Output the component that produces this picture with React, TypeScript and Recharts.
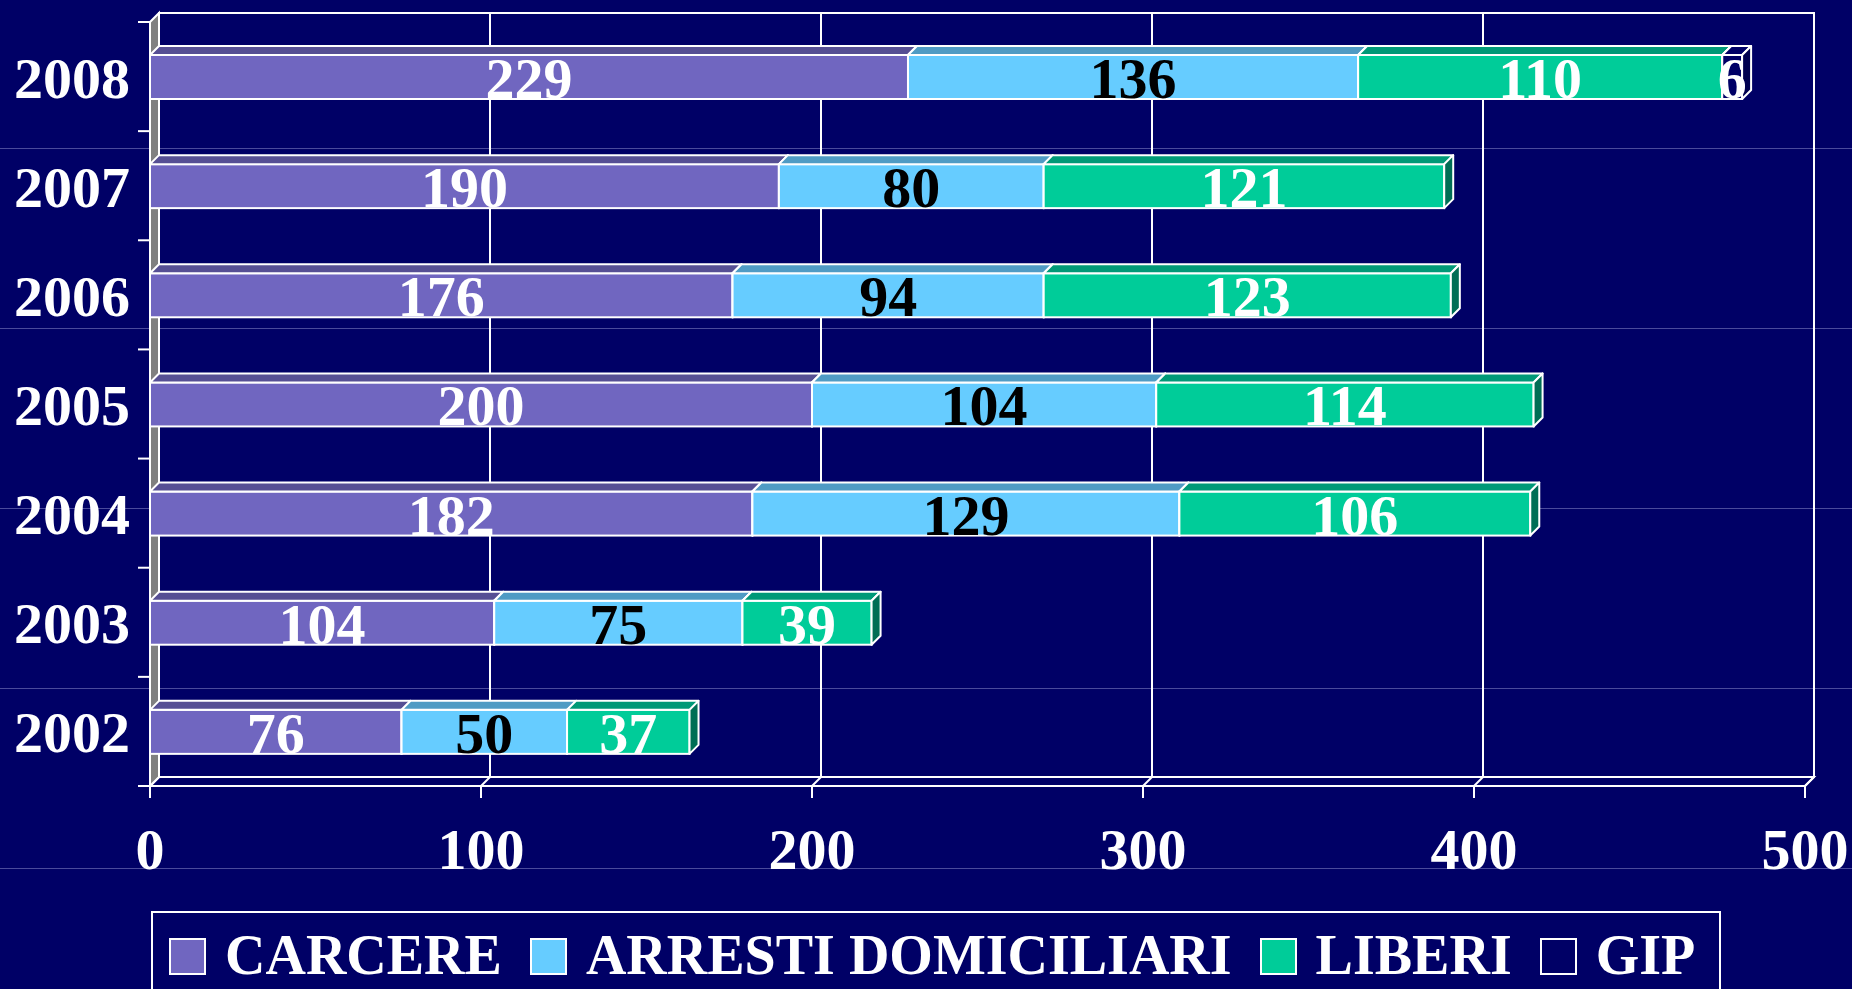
import React from "react";
import { BarChart, Bar, XAxis, YAxis, ReferenceArea, LabelList } from "recharts";

const YEARS = ["2008", "2007", "2006", "2005", "2004", "2003", "2002"];
const CARCERE = [229, 190, 176, 200, 182, 104, 76];
const ARRESTI = [136, 80, 94, 104, 129, 75, 50];
const LIBERI = [110, 121, 123, 114, 106, 39, 37];
const GIP = [6, 0, 0, 0, 0, 0, 0];
const X_TICKS = [0, 100, 200, 300, 400, 500];

const SERIES = [
  { key: "carcere", name: "CARCERE", front: "#7066c0", top: "#564f94", side: "#463f80", text: "#ffffff" },
  { key: "arresti", name: "ARRESTI DOMICILIARI", front: "#66ccff", top: "#4f9bc4", side: "#3f7ea0", text: "#000000" },
  { key: "liberi", name: "LIBERI", front: "#00cc99", top: "#009977", side: "#006e55", text: "#ffffff" },
  { key: "gip", name: "GIP", front: "#000066", top: "#000066", side: "#000050", text: "#ffffff" },
];

const data = YEARS.map((year, i) => ({
  year,
  carcere: CARCERE[i],
  arresti: ARRESTI[i],
  liberi: LIBERI[i],
  gip: GIP[i],
}));

const BG = "#000066";
const FONT = "'Liberation Serif', 'Times New Roman', serif";
const D = 9; // 3d depth

const makeBarShape = (top: string, side: string) => (props: any) => {
  const { x, y, width, height, fill } = props;
  if (!width || width <= 0) return <g />;
  const pts = (p: number[][]) => p.map((q) => q.join(",")).join(" ");
  return (
    <g>
      <rect x={x} y={y} width={width} height={height} fill={fill} stroke="#fff" strokeWidth={2} />
      <polygon
        points={pts([[x, y], [x + D, y - D], [x + width + D, y - D], [x + width, y]])}
        fill={top}
        stroke="#fff"
        strokeWidth={2}
        strokeLinejoin="round"
      />
      <polygon
        points={pts([[x + width, y], [x + width + D, y - D], [x + width + D, y + height - D], [x + width, y + height]])}
        fill={side}
        stroke="#fff"
        strokeWidth={2}
        strokeLinejoin="round"
      />
    </g>
  );
};

const makeLabel = (color: string) => (props: any) => {
  const vb = props.viewBox || {};
  const x = props.x ?? vb.x;
  const y = props.y ?? vb.y;
  const width = props.width ?? vb.width;
  const height = props.height ?? vb.height;
  if (!props.value) return null;
  return (
    <text
      x={x + width / 2}
      y={y + height / 2 + 21}
      textAnchor="middle"
      fill={color}
      fontFamily={FONT}
      fontWeight="bold"
      fontSize={58}
    >
      {props.value}
    </text>
  );
};

// back wall, floor, side wall and gridlines
const Walls = (props: any) => {
  const { x, y, width, height } = props;
  const n = YEARS.length;
  const max = X_TICKS[X_TICKS.length - 1];
  const pts = (p: number[][]) => p.map((q) => q.join(",")).join(" ");
  return (
    <g>
      <rect x={x + D} y={y - D} width={width} height={height} fill="none" stroke="#fff" strokeWidth={2} />
      {X_TICKS.slice(1, -1).map((t) => {
        const gx = x + D + (width * t) / max;
        return <line key={t} x1={gx} y1={y - D} x2={gx} y2={y + height - D} stroke="#fff" strokeWidth={2} />;
      })}
      <polygon
        points={pts([[x, y + height], [x + D, y + height - D], [x + width + D, y + height - D], [x + width, y + height]])}
        fill="none"
        stroke="#fff"
        strokeWidth={2}
      />
      {X_TICKS.map((t) => {
        const gx = x + (width * t) / max;
        return <line key={t} x1={gx} y1={y + height} x2={gx + D} y2={y + height - D} stroke="#fff" strokeWidth={2} />;
      })}
      <polygon
        points={pts([[x, y], [x + D, y - D], [x + D, y + height - D], [x, y + height]])}
        fill="#808080"
        stroke="#fff"
        strokeWidth={2}
      />
      {Array.from({ length: n + 1 }, (_, i) => {
        const ty = y + (height * i) / n;
        return <line key={i} x1={x - 12} y1={ty} x2={x} y2={ty} stroke="#fff" strokeWidth={2} />;
      })}
    </g>
  );
};

const YTick = (props: any) => {
  const { x, y, payload } = props;
  return (
    <text x={x} y={y + 21} textAnchor="end" fill="#fff" fontFamily={FONT} fontWeight="bold" fontSize={58}>
      {payload.value}
    </text>
  );
};

const XTick = (props: any) => {
  const { x, y, payload } = props;
  return (
    <text x={x} y={y + 69} textAnchor="middle" fill="#fff" fontFamily={FONT} fontWeight="bold" fontSize={58}>
      {payload.value}
    </text>
  );
};

export default function App() {
  return (
    <div
      style={{
        position: "absolute",
        left: 0,
        top: 0,
        width: 1852,
        height: 989,
        overflow: "hidden",
        backgroundColor: BG,
        backgroundImage:
          "repeating-linear-gradient(to bottom, transparent 0px, transparent 148px, #4a4a9c 148px, #4a4a9c 149px, transparent 149px, transparent 180px)",
      }}
    >
      <BarChart
        width={1852}
        height={989}
        data={data}
        layout="vertical"
        margin={{ top: 22, right: 47, bottom: 143, left: 20 }}
      >
        <ReferenceArea x1={0} x2={500} shape={Walls} ifOverflow="visible" />
        <XAxis
          type="number"
          domain={[0, 500]}
          ticks={X_TICKS}
          interval={0}
          height={60}
          axisLine={{ stroke: "#fff", strokeWidth: 2 }}
          tickLine={{ stroke: "#fff", strokeWidth: 2 }}
          tickSize={12}
          tick={<XTick />}
        />
        <YAxis
          type="category"
          dataKey="year"
          width={130}
          axisLine={false}
          tickLine={false}
          tickSize={0}
          tickMargin={20}
          tick={<YTick />}
        />
        {SERIES.map((s) => (
          <Bar
            key={s.key}
            dataKey={s.key}
            name={s.name}
            stackId="a"
            fill={s.front}
            barSize={44}
            shape={makeBarShape(s.top, s.side)}
            isAnimationActive={false}
          >
            <LabelList dataKey={s.key} content={makeLabel(s.text)} />
          </Bar>
        ))}
      </BarChart>
      <div
        style={{
          position: "absolute",
          left: 151,
          top: 911,
          width: 1570,
          height: 120,
          border: "2px solid #fff",
          boxSizing: "border-box",
          display: "flex",
          alignItems: "flex-start",
          paddingLeft: 16,
          paddingTop: 14,
          fontFamily: FONT,
          fontWeight: "bold",
          fontSize: 56,
          lineHeight: "56px",
          color: "#fff",
          whiteSpace: "nowrap",
        }}
      >
        {SERIES.map((s) => (
          <div key={s.key} style={{ display: "flex", alignItems: "flex-start", marginRight: 28 }}>
            <div
              style={{
                width: 37,
                height: 37,
                marginTop: 11,
                marginRight: 19,
                background: s.front,
                border: "2px solid #fff",
                boxSizing: "border-box",
              }}
            />
            <span>{s.name}</span>
          </div>
        ))}
      </div>
    </div>
  );
}
